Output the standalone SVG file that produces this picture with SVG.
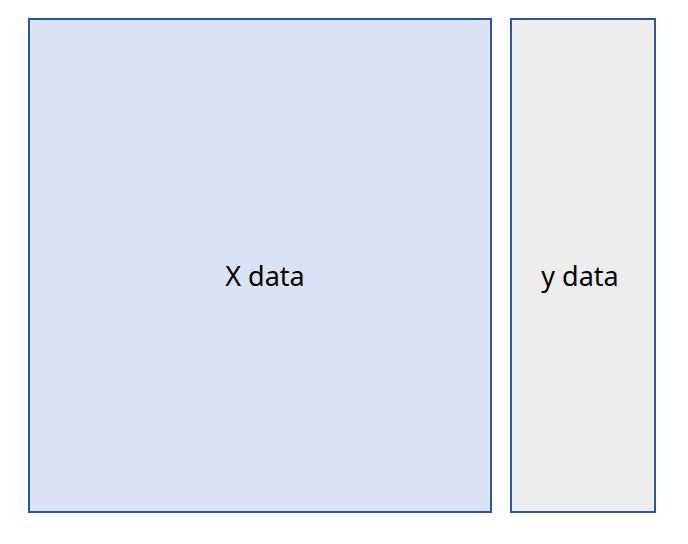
<svg xmlns="http://www.w3.org/2000/svg" width="688" height="544" viewBox="0 0 688 544">
<style>
.box{stroke:#2F5597;stroke-width:2}
.lbl{font-family:"Noto Sans","Open Sans","Liberation Sans",sans-serif;font-size:27px;fill:#000;text-anchor:middle}
</style>
<rect width="688" height="544" fill="#fff"/>
<g id="x-data">
<rect class="box" x="29" y="19" width="462" height="493" fill="#DAE3F3"/>
<text class="lbl" x="265" y="286">X data</text>
</g>
<g id="y-data">
<rect class="box" x="511" y="19" width="144" height="493" fill="#EDEDED"/>
<text class="lbl" x="580" y="286">y data</text>
</g>
<g id="connectors"></g>
</svg>
